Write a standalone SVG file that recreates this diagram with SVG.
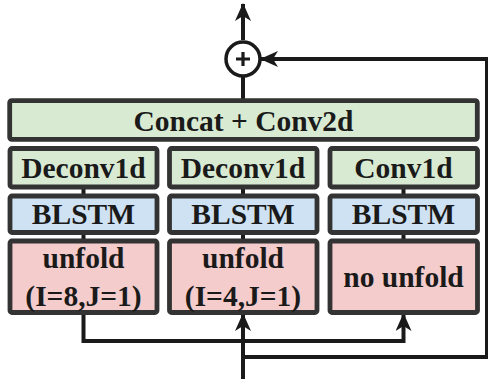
<svg xmlns="http://www.w3.org/2000/svg" width="488" height="379" viewBox="0 0 488 379">
  <style>
    .box { stroke: #333333; stroke-width: 4.8; }
    .green { fill: #d9ead3; }
    .blue { fill: #cfe2f3; }
    .red { fill: #f4cccc; }
    .label { font-family: "Liberation Serif", "Times New Roman", serif; font-weight: bold; font-size: 29.5px; fill: #1a1a1a; text-anchor: middle; }
    .wire { stroke: #1a1a1a; stroke-width: 4; fill: none; }
    .link { stroke: #1a1a1a; stroke-width: 4; }
  </style>
  <defs>
    <marker id="arrow" viewBox="0 0 18 16" refX="17" refY="8" markerWidth="18" markerHeight="16" markerUnits="userSpaceOnUse" orient="auto">
      <path d="M0,0 L18,8 L0,16 L5,8 Z" fill="#1a1a1a"/>
    </marker>
  </defs>

  <!-- connectors -->
  <g id="connectors">
    <!-- output of the sum -->
    <line class="wire" x1="243" y1="40" x2="243" y2="4" marker-end="url(#arrow)"/>
    <!-- fusion block into the sum -->
    <line class="wire" x1="243" y1="99" x2="243" y2="77"/>
    <!-- residual path -->
    <line class="wire" x1="243" y1="357" x2="487" y2="357"/>
    <line class="wire" x1="486.5" y1="359" x2="486.5" y2="57" style="stroke-width:3"/>
    <line class="wire" x1="488" y1="59" x2="261" y2="59" marker-end="url(#arrow)"/>
    <!-- input trunk -->
    <line class="wire" x1="243" y1="379" x2="243" y2="314" marker-end="url(#arrow)"/>
    <polyline class="wire" points="83.5,314 83.5,341 403.5,341 403.5,314" marker-start="url(#arrow)" marker-end="url(#arrow)"/>
    <!-- short links between stacked blocks -->
    <line class="link" x1="83.5" y1="187" x2="83.5" y2="196"/>
    <line class="link" x1="83.5" y1="232" x2="83.5" y2="241"/>
    <line class="link" x1="243" y1="187" x2="243" y2="196"/>
    <line class="link" x1="243" y1="232" x2="243" y2="241"/>
    <line class="link" x1="403.5" y1="187" x2="403.5" y2="196"/>
    <line class="link" x1="403.5" y1="232" x2="403.5" y2="241"/>
  </g>

  <!-- sum node -->
  <g id="sum">
    <circle cx="243" cy="59" r="17" fill="#ffffff" stroke="#1a1a1a" stroke-width="3.5"/>
    <path d="M236,59 H250 M243,52 V66" stroke="#1a1a1a" stroke-width="3.2" fill="none"/>
  </g>

  <g id="concat">
    <rect class="box green" x="9.7" y="100.7" width="467.6" height="38.6" rx="2"/>
    <text class="label" x="243.5" y="131">Concat + Conv2d</text>
  </g>

  <!-- column 1 -->
  <g id="deconv1">
    <rect class="box green" x="10" y="148.5" width="147" height="38.5" rx="2"/>
    <text class="label" x="83.5" y="178.3">Deconv1d</text>
  </g>
  <g id="blstm1">
    <rect class="box blue" x="10" y="196" width="147" height="36.5" rx="2"/>
    <text class="label" x="83.5" y="224.3">BLSTM</text>
  </g>
  <g id="unfold1">
    <rect class="box red" x="10" y="241" width="147" height="71.5" rx="2"/>
    <text class="label" x="83.5" y="267.7">unfold</text>
    <text class="label" x="83.5" y="306">(I=8,J=1)</text>
  </g>

  <!-- column 2 -->
  <g id="deconv2">
    <rect class="box green" x="169.5" y="148.5" width="147.5" height="38.5" rx="2"/>
    <text class="label" x="243" y="178.3">Deconv1d</text>
  </g>
  <g id="blstm2">
    <rect class="box blue" x="169.5" y="196" width="147.5" height="36.5" rx="2"/>
    <text class="label" x="243" y="224.3">BLSTM</text>
  </g>
  <g id="unfold2">
    <rect class="box red" x="169.5" y="241" width="147.5" height="71.5" rx="2"/>
    <text class="label" x="243" y="267.7">unfold</text>
    <text class="label" x="243" y="306">(I=4,J=1)</text>
  </g>

  <!-- column 3 -->
  <g id="conv3">
    <rect class="box green" x="330" y="148.5" width="147.5" height="38.5" rx="2"/>
    <text class="label" x="403.5" y="178.3">Conv1d</text>
  </g>
  <g id="blstm3">
    <rect class="box blue" x="330" y="196" width="147.5" height="36.5" rx="2"/>
    <text class="label" x="403.5" y="224.3">BLSTM</text>
  </g>
  <g id="nounfold3">
    <rect class="box red" x="330" y="241" width="147.5" height="71.5" rx="2"/>
    <text class="label" x="403.5" y="286.7">no unfold</text>
  </g>
</svg>
